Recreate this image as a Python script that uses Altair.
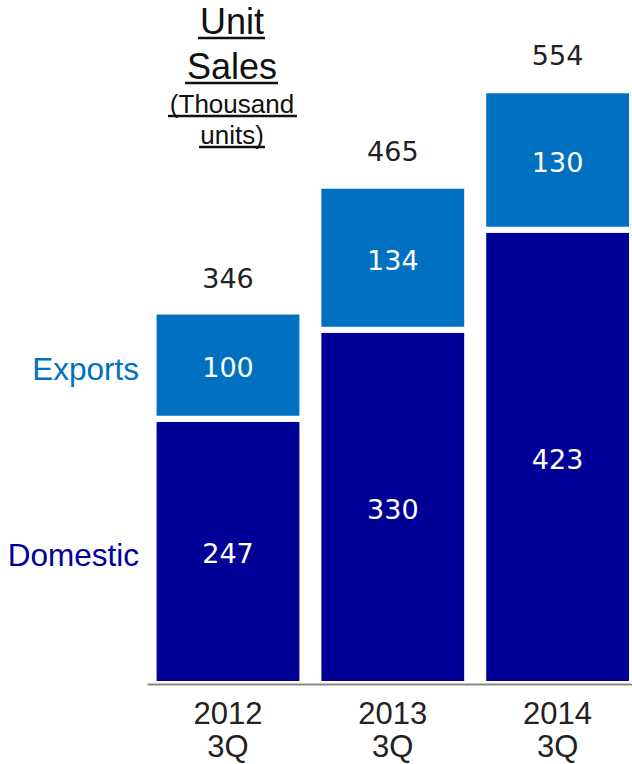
import altair as alt
import pandas as pd

years = ["2012 3Q", "2013 3Q", "2014 3Q"]
domestic = [247, 330, 423]
exports = [100, 134, 130]
totals = [346, 465, 554]
series = ["Domestic", "Exports"]
colors = ["#000099", "#0070C0"]

rows = []
for i, yr in enumerate(years):
    rows.append({"year": yr, "series": series[0], "value": domestic[i], "ord": 0})
    rows.append({"year": yr, "series": series[1], "value": exports[i], "ord": 1})
df = pd.DataFrame(rows)
tot = pd.DataFrame({"year": years, "total": totals})

NUM_FONT = "DejaVu Sans"
TXT_FONT = "Liberation Sans"

xenc = alt.X(
    "year:N", sort=years,
    scale=alt.Scale(paddingInner=0.097, paddingOuter=0.02, align=1),
    axis=alt.Axis(title=None, labelExpr="split(datum.label, ' ')", labelAngle=0,
                  labelFontSize=31, labelFont=TXT_FONT, labelColor="#222222",
                  labelLineHeight=33, labelPadding=15, ticks=False,
                  domainColor="#888888", domainWidth=2, zindex=1),
)
yscale = alt.Scale(domain=[0, 637], nice=False)
cscale = alt.Scale(domain=series, range=colors)

base = alt.Chart(df)

bars = base.mark_bar(stroke="white", strokeWidth=6).encode(
    x=xenc,
    y=alt.Y("value:Q", stack="zero", scale=yscale, axis=None),
    color=alt.Color("series:N", scale=cscale, legend=None),
    order=alt.Order("ord:Q"),
)

stacked = base.transform_stack(
    stack="value", groupby=["year"], as_=["v0", "v1"], sort=[alt.SortField("ord")]
).transform_calculate(mid="(datum.v0 + datum.v1) / 2")

inner = stacked.mark_text(font=NUM_FONT, fontSize=27, color="white", baseline="middle", dy=4).encode(
    x=xenc,
    y=alt.Y("mid:Q", scale=yscale, axis=None),
    text=alt.Text("value:Q"),
)

side = stacked.transform_filter(alt.datum.year == years[0]).mark_text(
    font=TXT_FONT, fontSize=31.5, align="right", baseline="middle", dy=6
).encode(
    x=alt.value(-8),
    y=alt.Y("mid:Q", scale=yscale, axis=None),
    text="series:N",
    color=alt.Color("series:N", scale=cscale, legend=None),
)

tops = alt.Chart(tot).mark_text(font=NUM_FONT, fontSize=27, color="#222222",
                                 baseline="alphabetic", dy=-24).encode(
    x=xenc,
    y=alt.Y("total:Q", scale=yscale, axis=None),
    text=alt.Text("total:Q"),
)

one = alt.Data(values=[{}])
title_layers = []
for txt, size, base_y, ux0, ux1, uy in [
    ("Unit", 36, 34, 51, 118, 38),
    ("Sales", 36, 79, 38, 131, 83),
    ("(Thousand", 26, 113, 21, 150, 116),
    ("units)", 26, 144, 52, 118, 147),
]:
    title_layers.append(
        alt.Chart(one).mark_text(text=txt, font=TXT_FONT, fontSize=size, color="#111111",
                                 align="center", baseline="alphabetic").encode(
            x=alt.value(85), y=alt.value(base_y))
    )
    title_layers.append(
        alt.Chart(one).mark_rule(color="#111111", strokeWidth=2.5).encode(
            x=alt.value(ux0), x2=alt.value(ux1), y=alt.value(uy))
    )

chart = alt.layer(bars, inner, side, tops, *title_layers).properties(
    width=485, height=684,
    autosize=alt.AutoSizeParams(type="none"),
    padding={"left": 147, "top": 0, "right": 0, "bottom": 80},
).configure_view(stroke=None)

chart.save("out.html", embed_options={"renderer": "svg", "actions": False})
